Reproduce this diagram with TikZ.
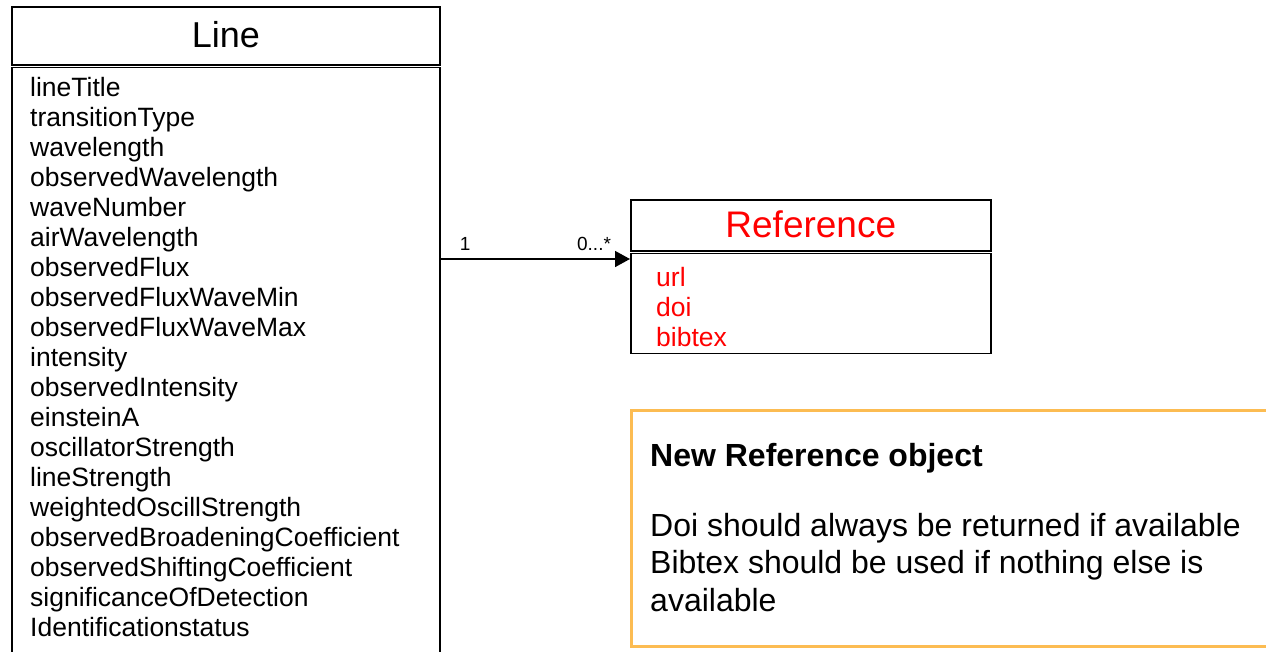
\documentclass[tikz,border=0pt]{standalone}
\usepackage{fontspec}
\setmainfont{Liberation Sans}
\usetikzlibrary{positioning, arrows.meta}

\definecolor{notebar}{RGB}{252,188,82}

\begin{document}
\begin{tikzpicture}[
    x=1pt, y=-1pt,
    % Node styles
    classtitle/.style={
        rectangle,
        draw=black,
        line width=1.6pt,
        text=#1,
        minimum width=428pt,
        minimum height=58pt,
        text depth=3pt,
        font=\fontsize{36}{40}\selectfont
    },
    classtitle/.default=black,
    classbody/.style={
        rectangle,
        draw=black,
        line width=1.6pt,
        minimum width=428pt,
        minimum height=640pt
    },
    attr/.style={
        anchor=base west,
        inner sep=0pt,
        text=#1,
        font=\fontsize{26.5}{30}\selectfont
    },
    attr/.default=black,
    assoc/.style={
        -{Triangle[length=15pt, width=16pt]},
        line width=1.6pt
    },
    mult/.style={
        font=\fontsize{19}{22}\selectfont,
        inner sep=2pt
    },
    notebox/.style={
        rectangle,
        draw=notebar,
        line width=3pt,
        fill=white,
        minimum width=680pt,
        minimum height=236pt,
        anchor=north west
    },
    notetext/.style={
        anchor=base west,
        inner sep=0pt,
        font=\fontsize{32}{37.5}\selectfont
    }
]

\path[use as bounding box, clip] (0,0) rectangle (1266,651);

% Line class
\node[classtitle, anchor=north west] (linetitle) at (11,6) {Line};
\node[classbody, below=1pt of linetitle.south west, anchor=north west] (linebody) {};

\foreach \name [count=\i from 0] in {lineTitle, transitionType, wavelength,
    observedWavelength, waveNumber, airWavelength, observedFlux,
    observedFluxWaveMin, observedFluxWaveMax, intensity, observedIntensity,
    einsteinA, oscillatorStrength, lineStrength, weightedOscillStrength,
    observedBroadeningCoefficient, observedShiftingCoefficient,
    significanceOfDetection, Identificationstatus} {
    \node[attr] (lineattr\i) at (30, 96+30*\i) {\name};
}

% Reference class
\node[classtitle=red, minimum width=360pt, minimum height=51pt, anchor=north west,
    font=\fontsize{37}{40}\selectfont] (reftitle) at (630,199) {Reference};
\node[classbody, minimum width=360pt, minimum height=100pt, below=1pt of reftitle.south west, anchor=north west] (refbody) {};

\foreach \name [count=\i from 0] in {url, doi, bibtex} {
    \node[attr=red] (refattr\i) at (656, 286+30*\i) {\name};
}

% Association Line -> Reference
\coordinate (assocrow) at (0,259);
\draw[assoc] (linebody.east |- assocrow) -- (refbody.west |- assocrow)
    node[mult, pos=0.13, above=6pt] (multline) {1}
    node[mult, pos=0.81, above=6pt] (multref) {0...*};

% Note
\node[notebox] (note) at (630,409) {};
\node[notetext] (notetitle) at (650,466) {\textbf{New Reference object}};
\foreach \txt [count=\i from 0] in {Doi should always be returned if available,
    Bibtex should be used if nothing else is, available} {
    \node[notetext] (noteline\i) at (650, 536+37.5*\i) {\txt};
}

\end{tikzpicture}
\end{document}
